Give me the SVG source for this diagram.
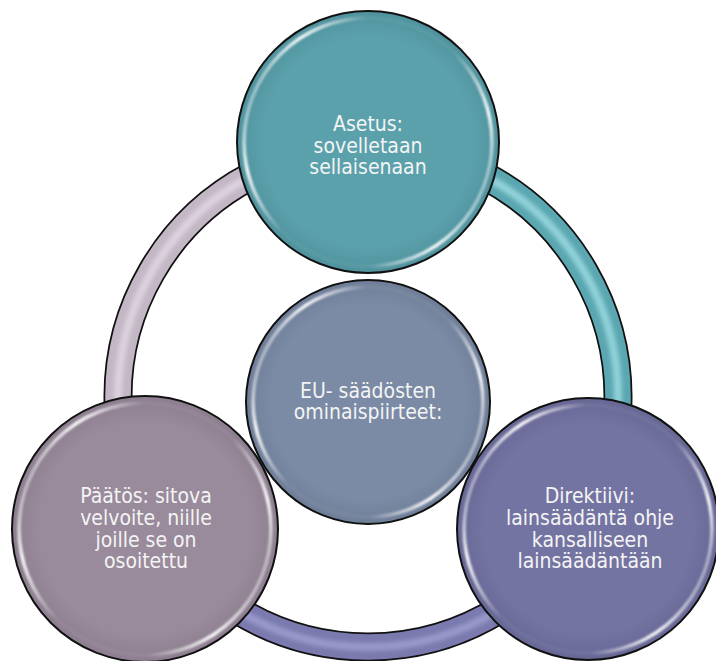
<svg xmlns="http://www.w3.org/2000/svg" width="716" height="661" viewBox="0 0 716 661">
<style>
.edge{fill:none;stroke:#111;stroke-width:29}
.tube{fill:none;stroke-width:25.5}
.shine{fill:none;stroke-width:8;filter:url(#blur2);opacity:0.7}
.out{stroke:#111;stroke-width:2}
.rim{fill:none;stroke:url(#hl);stroke-width:3.5;filter:url(#blur1)}
.lbl{font-family:"DejaVu Sans Condensed","DejaVu Sans",sans-serif;font-stretch:condensed;font-size:21px;fill:#f4f4f4;text-anchor:middle}
</style>
<defs>
<filter id="blur1" x="-10%" y="-10%" width="120%" height="120%"><feGaussianBlur stdDeviation="0.9"/></filter>
<filter id="blur2" x="-10%" y="-10%" width="120%" height="120%"><feGaussianBlur stdDeviation="2"/></filter>
<linearGradient id="hl" x1="0" y1="0.3" x2="1" y2="0.7">
<stop offset="0" stop-color="#fff" stop-opacity="0.2"/>
<stop offset="0.12" stop-color="#fff" stop-opacity="0.95"/>
<stop offset="0.32" stop-color="#fff" stop-opacity="0.05"/>
<stop offset="0.68" stop-color="#fff" stop-opacity="0.05"/>
<stop offset="0.88" stop-color="#fff" stop-opacity="0.95"/>
<stop offset="1" stop-color="#fff" stop-opacity="0.2"/>
</linearGradient>
<radialGradient id="gTeal"><stop offset="0.8" stop-color="#5ba1ac"/><stop offset="1" stop-color="#4f929d"/></radialGradient>
<radialGradient id="gSlate"><stop offset="0.8" stop-color="#7b8ba5"/><stop offset="1" stop-color="#6f7e98"/></radialGradient>
<radialGradient id="gMauve"><stop offset="0.8" stop-color="#9a8b9c"/><stop offset="1" stop-color="#8c7e8f"/></radialGradient>
<radialGradient id="gPurple"><stop offset="0.8" stop-color="#7474a2"/><stop offset="1" stop-color="#676795"/></radialGradient>
</defs>
<rect width="716" height="661" fill="#fff"/>
<g id="connectors">
<path class="edge" d="M368 147 A250 250 0 0 1 584.5 522"/>
<path class="tube" stroke="#5ba7b1" d="M368 147 A250 250 0 0 1 584.5 522"/>
<path class="shine" stroke="#a9e4ea" d="M368 147 A250 250 0 0 1 584.5 522"/>
<path class="edge" d="M584.5 522 A250 250 0 0 1 151.5 522"/>
<path class="tube" stroke="#7a7aae" d="M584.5 522 A250 250 0 0 1 151.5 522"/>
<path class="shine" stroke="#a6a6d6" d="M584.5 522 A250 250 0 0 1 151.5 522"/>
<path class="edge" d="M151.5 522 A250 250 0 0 1 368 147"/>
<path class="tube" stroke="#c4b7c5" d="M151.5 522 A250 250 0 0 1 368 147"/>
<path class="shine" stroke="#e6dde9" d="M151.5 522 A250 250 0 0 1 368 147"/>
</g>
<g id="node-asetus">
<circle class="out" cx="368" cy="142" r="131" fill="url(#gTeal)"/>
<circle class="rim" cx="368" cy="142" r="124"/>
<text class="lbl" x="368" y="131">Asetus:</text>
<text class="lbl" x="368" y="153">sovelletaan</text>
<text class="lbl" x="368" y="174">sellaisenaan</text>
</g>
<g id="node-direktiivi">
<circle class="out" cx="588" cy="529" r="131" fill="url(#gPurple)"/>
<circle class="rim" cx="588" cy="529" r="124"/>
<text class="lbl" x="590" y="503">Direktiivi:</text>
<text class="lbl" x="590" y="525">lainsäädäntä ohje</text>
<text class="lbl" x="590" y="547">kansalliseen</text>
<text class="lbl" x="590" y="568">lainsäädäntään</text>
</g>
<g id="node-paatos">
<circle class="out" cx="145" cy="529" r="133" fill="url(#gMauve)"/>
<circle class="rim" cx="145" cy="529" r="126"/>
<text class="lbl" x="146" y="503">Päätös: sitova</text>
<text class="lbl" x="146" y="525">velvoite, niille</text>
<text class="lbl" x="146" y="547">joille se on</text>
<text class="lbl" x="146" y="568">osoitettu</text>
</g>
<g id="node-eu">
<circle class="out" cx="368" cy="402" r="122" fill="url(#gSlate)"/>
<circle class="rim" cx="368" cy="402" r="115"/>
<text class="lbl" x="368" y="398">EU- säädösten</text>
<text class="lbl" x="368" y="419">ominaispiirteet:</text>
</g>
</svg>
